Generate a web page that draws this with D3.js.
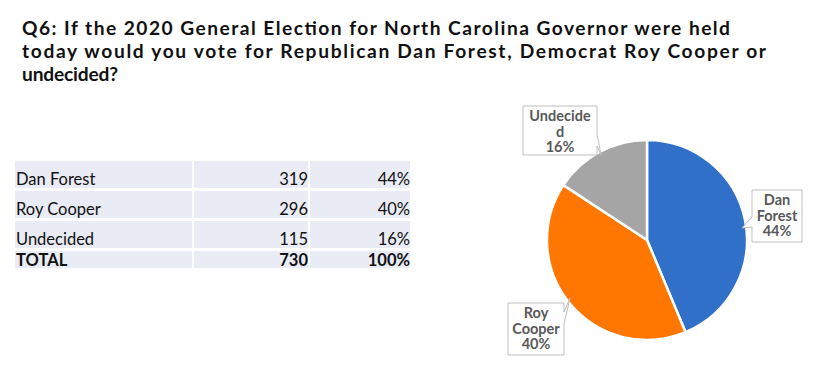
<!DOCTYPE html>
<html><head><meta charset="utf-8">
<script src="https://cdn.jsdelivr.net/npm/d3@7"></script>
<style>body{margin:0;background:#fff}svg{display:block}</style>
</head><body>
<script>
const titleLines = ["Q6: If the 2020 General Election for North Carolina Governor were held",
  "today would you vote for Republican Dan Forest, Democrat Roy Cooper or",
  "undecided?"];
const categories = ["Dan Forest", "Roy Cooper", "Undecided"];
const counts = [319, 296, 115];
const percents = ["44%", "40%", "16%"];
const totalLabel = "TOTAL", totalCount = 730, totalPct = "100%";
const pieLabels = [["Dan", "Forest", "44%"], ["Roy", "Cooper", "40%"], ["Undecide", "d", "16%"]];
const colors = ["#3070C8", "#FF7700", "#A5A5A5"];

const W = 820, H = 377;
const svg = d3.select("body").append("svg").attr("width", W).attr("height", H);
const font = "Lato, 'Open Sans', sans-serif";

// Title
const titleWidths = [708, 744, 96];
const title = svg.append("g");
titleLines.forEach((t, i) => {
  title.append("text").attr("x", 22).attr("y", 35 + i * 23.2)
    .attr("font-family", font).attr("font-weight", 700).attr("font-size", 19.2)
    .attr("textLength", titleWidths[i]).attr("lengthAdjust", "spacing")
    .attr("fill", "#111").text(t);
});

// Table
const cols = [[15, 192], [194, 308], [310, 410]];
const rowTops = [161, 191, 221, 251];
const rowBots = [188, 218, 248, 268];
const rows = categories.map((c, i) => [c, counts[i], percents[i]]);
rows.push([totalLabel, totalCount, totalPct]);
const tg = svg.append("g");
rows.forEach((r, i) => {
  cols.forEach((c, j) => {
    tg.append("rect").attr("x", c[0]).attr("y", rowTops[i]).attr("width", c[1] - c[0])
      .attr("height", rowBots[i] - rowTops[i]).attr("fill", "#E9EBF5");
    const isTotal = i === 3;
    tg.append("text")
      .attr("x", j === 0 ? c[0] + 1 : c[1])
      .attr("y", rowBots[i] - (isTotal ? 2 : 3))
      .attr("text-anchor", j === 0 ? "start" : "end")
      .attr("font-family", font).attr("font-size", 16.5)
      .attr("font-weight", isTotal ? 700 : 400)
      .attr("fill", "#111").text(r[j]);
  });
});

// Pie
const cx = 647, cy = 240, R = 100;
const pie = d3.pie().sort(null).value(d => d)(counts);
const arc = d3.arc().innerRadius(0).outerRadius(R);
const pg = svg.append("g").attr("transform", `translate(${cx},${cy})`);
pg.selectAll("path").data(pie).join("path").attr("d", arc)
  .attr("fill", (d, i) => colors[i]).attr("stroke", "#fff").attr("stroke-width", 2.5);

// Callouts
const boxes = [
  {b: [752, 190, 802, 242], side: "left", py: 222, tip: [742, 228]},
  {b: [508, 303, 564, 355], side: "right", py: 318, tip: [570, 298]},
  {b: [523, 106, 597, 155], side: "right", py: 140, tip: [601, 155]}
];
boxes.forEach((bx, i) => {
  const [x0, y0, x1, y1] = bx.b;
  let p;
  if (bx.side === "left") {
    p = `M${x0},${y0}H${x1}V${y1}H${x0}V${bx.py + 5}L${bx.tip[0]},${bx.tip[1]}L${x0},${bx.py - 5}Z`;
  } else {
    p = `M${x0},${y0}H${x1}V${bx.py - 6}L${bx.tip[0]},${bx.tip[1]}L${x1},${bx.py + 6}V${y1}H${x0}Z`;
  }
  svg.append("path").attr("d", p).attr("fill", "#fff").attr("stroke", "#BFBFBF").attr("stroke-width", 1);
  const mx = (x0 + x1) / 2;
  pieLabels[i].forEach((t, k) => {
    svg.append("text").attr("x", mx).attr("y", y0 + 15 + k * 15.5)
      .attr("text-anchor", "middle").attr("font-family", font).attr("font-weight", 700)
      .attr("font-size", 14.5).attr("fill", "#595959").text(t);
  });
});
</script>
</body></html>
